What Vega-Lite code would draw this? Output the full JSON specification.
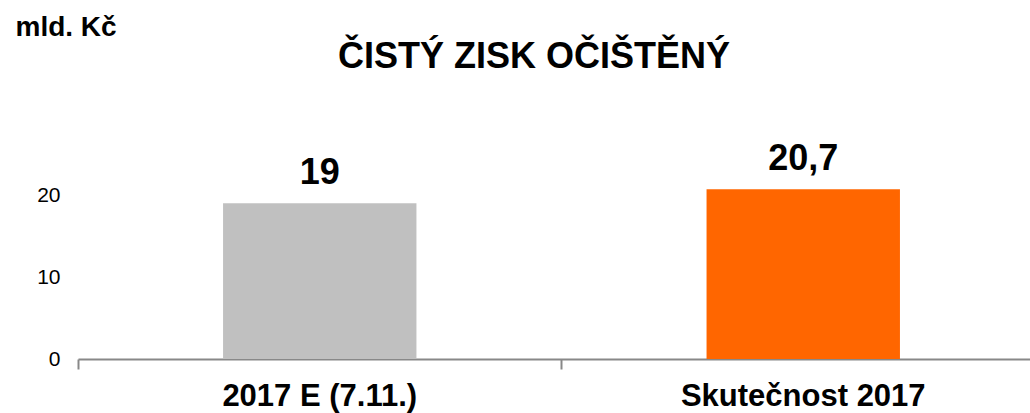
{
  "$schema": "https://vega.github.io/schema/vega-lite/v6.json",
  "width": 952,
  "height": 246,
  "autosize": {"type": "none"},
  "padding": {"left": 78, "top": 113, "right": 0, "bottom": 54},
  "background": "white",
  "config": {
    "view": {"stroke": null},
    "font": "Liberation Sans",
    "locale": {"number": {"decimal": ",", "thousands": " ", "grouping": [3], "currency": ["", " Kč"]}}
  },
  "title": {
    "text": "ČISTÝ ZISK OČIŠTĚNÝ",
    "font": "Liberation Sans",
    "fontSize": 36,
    "fontWeight": "bold",
    "color": "#000000",
    "anchor": "middle",
    "frame": "group",
    "dx": -20,
    "baseline": "alphabetic",
    "offset": -91
  },
  "data": {
    "values": [
      {"kategorie": "2017 E (7.11.)", "hodnota": 19},
      {"kategorie": "Skutečnost 2017", "hodnota": 20.7}
    ]
  },
  "encoding": {
    "x": {
      "field": "kategorie",
      "type": "nominal",
      "sort": null,
      "scale": {"paddingInner": 0.6, "paddingOuter": 0.3, "range": [0, 967]},
      "axis": {
        "title": null,
        "labelAngle": 0,
        "labelLimit": 0,
        "labelFont": "Liberation Sans",
        "labelFontSize": 31,
        "labelFontWeight": "bold",
        "labelColor": "#000000",
        "labelPadding": 12,
        "labelBaseline": "top",
        "domainColor": "#888888",
        "domainWidth": 2,
        "tickColor": "#888888",
        "tickWidth": 2,
        "tickSize": 10,
        "bandPosition": -0.75,
        "tickExtra": false,
        "grid": false
      }
    },
    "y": {
      "field": "hodnota",
      "type": "quantitative",
      "scale": {"domain": [0, 30]},
      "axis": {
        "values": [0, 10, 20],
        "domain": false,
        "ticks": false,
        "grid": false,
        "labelFont": "Liberation Sans",
        "labelFontSize": 21,
        "labelColor": "#000000",
        "labelPadding": 18,
        "title": "mld. Kč",
        "titleFont": "Liberation Sans",
        "titleFontSize": 28,
        "titleFontWeight": "bold",
        "titleColor": "#000000",
        "titleAngle": 0,
        "titleAlign": "left",
        "titleBaseline": "alphabetic",
        "titleX": -63,
        "titleY": -78
      }
    }
  },
  "layer": [
    {
      "mark": {"type": "bar"},
      "encoding": {
        "color": {
          "field": "kategorie",
          "type": "nominal",
          "sort": null,
          "scale": {"range": ["#c0c0c0", "#ff6600"]},
          "legend": null
        }
      }
    },
    {
      "mark": {
        "type": "text",
        "font": "Liberation Sans",
        "fontSize": 36,
        "fontWeight": "bold",
        "color": "#000000",
        "baseline": "alphabetic",
        "dy": -19
      },
      "encoding": {
        "text": {"field": "hodnota", "type": "quantitative", "format": ".1~f"}
      }
    }
  ]
}
